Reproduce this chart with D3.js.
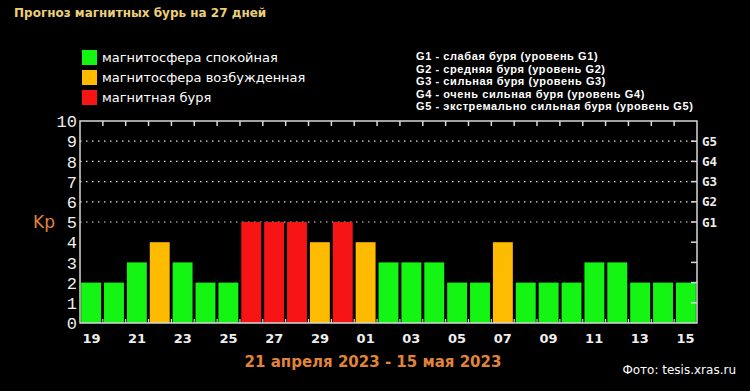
<!DOCTYPE html>
<html>
<head>
<meta charset="utf-8">
<script src="https://cdn.jsdelivr.net/npm/d3@7"></script>
<style>
  body { margin: 0; background: #000; }
  svg { display: block; }
</style>
</head>
<body>
<div id="chart"></div>
<script>
// data
var days = ["19","20","21","22","23","24","25","26","27","28","29","30",
            "01","02","03","04","05","06","07","08","09","10","11","12","13","14","15"];
var kp = [2,2,3,4,3,2,2,5,5,5,4,5,4,3,3,3,2,2,4,2,2,2,3,3,2,2,2];
var yTicks = [0,1,2,3,4,5,6,7,8,9,10];
var gLevels = ["G1","G2","G3","G4","G5"];
var gValues = [5,6,7,8,9];
var legendItems = ["магнитосфера спокойная", "магнитосфера возбужденная", "магнитная буря"];
var gNotes = [
  "G1 - слабая буря (уровень G1)",
  "G2 - средняя буря (уровень G2)",
  "G3 - сильная буря (уровень G3)",
  "G4 - очень сильная буря (уровень G4)",
  "G5 - экстремально сильная буря (уровень G5)"
];

var W = 750, H = 391;
var margin = {top: 121, right: 53, bottom: 68, left: 80},
    width = W - margin.left - margin.right,
    height = H - margin.top - margin.bottom;

var svg = d3.select("#chart").append("svg")
    .attr("width", W).attr("height", H)
    .style("background", "#000");

var colors = ["#14f514", "#ffbb00", "#f71414"];
var color = d3.scaleThreshold().domain([4, 5]).range(colors);

// title
svg.append("text")
  .attr("x", 14).attr("y", 17)
  .attr("fill", "#eccf78")
  .style("font", "bold 12px 'DejaVu Sans', sans-serif")
  .text("Прогноз магнитных бурь на 27 дней");

// legend left
var leg = svg.append("g").attr("transform", "translate(82,50)");
legendItems.forEach(function(t, i) {
  leg.append("rect")
    .attr("x", 0).attr("y", i * 20)
    .attr("width", 15).attr("height", 15)
    .attr("fill", colors[i]);
  leg.append("text")
    .attr("x", 20).attr("y", i * 20 + 12)
    .attr("fill", "#fff")
    .style("font", "13px 'DejaVu Sans', sans-serif")
    .text(t);
});

// legend right
gNotes.forEach(function(t, i) {
  svg.append("text")
    .attr("x", 416).attr("y", 60 + i * 12.6)
    .attr("fill", "#fff")
    .style("font", "bold 11px 'Liberation Sans', Arial, sans-serif")
    .style("letter-spacing", "0.58px")
    .text(t);
});

var g = svg.append("g")
  .attr("transform", "translate(" + margin.left + "," + margin.top + ")");

var x = d3.scaleBand().domain(d3.range(days.length)).range([0, width]).paddingInner(0.13).paddingOuter(0.05);
var xb = d3.scaleBand().domain(d3.range(days.length)).range([0, width]);
var y = d3.scaleLinear().domain([0, 10]).range([height, 0]);

// dotted grid lines
g.selectAll(".grid").data(gValues).enter().append("line")
  .attr("x1", 0).attr("x2", width)
  .attr("y1", function(d) { return y(d); })
  .attr("y2", function(d) { return y(d); })
  .attr("stroke", "#ddd").attr("stroke-width", 1.2)
  .attr("stroke-dasharray", "1.5,4.5");

// bars
g.selectAll(".bar").data(kp).enter().append("rect")
  .attr("x", function(d, i) { return x(i); })
  .attr("y", function(d) { return y(d); })
  .attr("width", x.bandwidth())
  .attr("height", function(d) { return height - y(d); })
  .attr("fill", function(d) { return color(d); });

// frame
g.append("rect")
  .attr("x", 0).attr("y", 0).attr("width", width).attr("height", height)
  .attr("fill", "none").attr("stroke", "#d8d8d8").attr("stroke-width", 1.5);

// ticks on top / bottom at day boundaries
var bounds = d3.range(1, days.length).map(function(i) { return xb(i); });
g.selectAll(".tt").data(bounds).enter().append("line")
  .attr("x1", function(d) { return d; }).attr("x2", function(d) { return d; })
  .attr("y1", 0).attr("y2", 5)
  .attr("stroke", "#d8d8d8").attr("stroke-width", 1.5);
g.selectAll(".tb").data(bounds).enter().append("line")
  .attr("x1", function(d) { return d; }).attr("x2", function(d) { return d; })
  .attr("y1", height).attr("y2", height - 4)
  .attr("stroke", "#d8d8d8").attr("stroke-width", 1.2);

// right axis ticks
g.selectAll(".tr").data(yTicks.slice(1, 10)).enter().append("line")
  .attr("x1", width).attr("x2", width - 6)
  .attr("y1", function(d) { return y(d); })
  .attr("y2", function(d) { return y(d); })
  .attr("stroke", "#d8d8d8").attr("stroke-width", 1.5);

// left y labels
g.selectAll(".yl").data(yTicks).enter().append("text")
  .attr("x", -3)
  .attr("y", function(d) { return y(d); })
  .attr("dy", "0.36em")
  .attr("text-anchor", "end")
  .attr("fill", "#eee")
  .style("font", "17px 'Liberation Mono', monospace")
  .text(function(d) { return d; });

// G labels
g.selectAll(".gl").data(gLevels).enter().append("text")
  .attr("x", width + 5)
  .attr("y", function(d, i) { return y(gValues[i]); })
  .attr("dy", "0.36em")
  .attr("fill", "#eee")
  .style("font", "bold 12.5px 'DejaVu Sans Mono', monospace")
  .text(function(d) { return d; });

// Kp
svg.append("text")
  .attr("x", 33).attr("y", margin.top + y(5))
  .attr("dy", "0.36em")
  .attr("fill", "#e0843a")
  .style("font", "17px 'DejaVu Sans', sans-serif")
  .text("Kp");

// x labels every second day
g.selectAll(".xl").data(days.filter(function(d, i) { return i % 2 === 0; })).enter().append("text")
  .attr("x", function(d) { return xb(days.indexOf(d)) + xb.bandwidth() / 2; })
  .attr("y", height + 20)
  .attr("text-anchor", "middle")
  .attr("fill", "#eee")
  .style("font", "bold 13px 'DejaVu Sans', sans-serif")
  .text(function(d) { return d; });

// date range
svg.append("text")
  .attr("x", 373).attr("y", 367)
  .attr("text-anchor", "middle")
  .attr("fill", "#e0843a")
  .style("font", "bold 15px 'DejaVu Sans', sans-serif")
  .text("21 апреля 2023 - 15 мая 2023");

// source
svg.append("text")
  .attr("x", 736).attr("y", 374)
  .attr("text-anchor", "end")
  .attr("fill", "#fff")
  .style("font", "12px 'DejaVu Sans', sans-serif")
  .text("Фото: tesis.xras.ru");
</script>
</body>
</html>
